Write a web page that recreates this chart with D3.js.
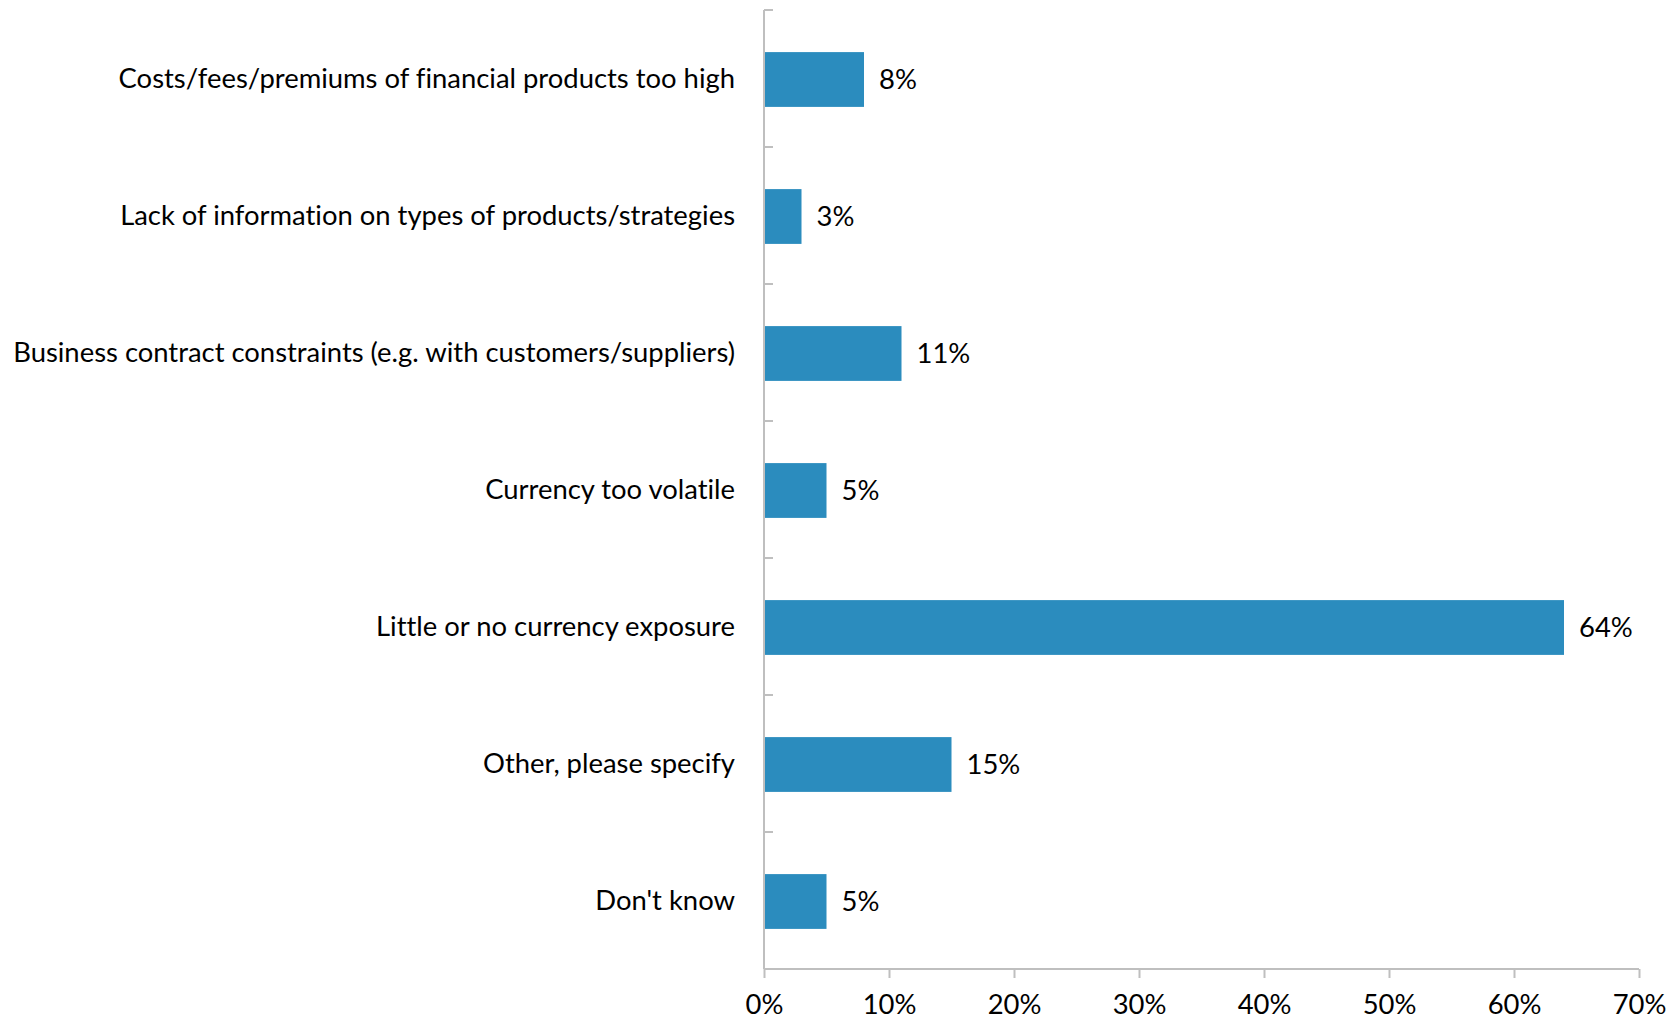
<!DOCTYPE html>
<html>
<head>
<meta charset="utf-8">
<script src="https://cdn.jsdelivr.net/npm/d3@7"></script>
<style>
  html, body { margin: 0; padding: 0; background: #fff; }
  svg { display: block; }
  text { font-family: Lato, "Open Sans", "Noto Sans", sans-serif; fill: #000; font-variant-ligatures: none; }
</style>
</head>
<body>
<svg id="chart" width="1680" height="1021"></svg>
<script>
const categories = [
  "Costs/fees/premiums of financial products too high",
  "Lack of information on types of products/strategies",
  "Business contract constraints (e.g. with customers/suppliers)",
  "Currency too volatile",
  "Little or no currency exposure",
  "Other, please specify",
  "Don't know"
];
const values = [8, 3, 11, 5, 64, 15, 5];
const xTickValues = [0, 10, 20, 30, 40, 50, 60, 70];

const svg = d3.select("#chart");
const margin = { left: 764, right: 41, top: 10, bottom: 52 };
const W = 1680, H = 1021;
const axisColor = "#bfbfbf";
const barColor = "#2b8cbe";

const x = d3.scaleLinear().domain([0, 70]).range([margin.left, W - margin.right]);
const y = d3.scaleBand().domain(categories).range([margin.top, H - margin.bottom])
  .paddingInner(0.6).paddingOuter(0.3);

// Base font size chosen so the longest category label spans the left margin
let fontSize = 27;
{
  const probe = svg.append("text").attr("font-size", 100).text(categories[2]);
  const w = probe.node().getComputedTextLength();
  probe.remove();
  fontSize = Math.min(30, 100 * 722 / w);
}

const g = svg.append("g").attr("transform", "translate(0,1)");

// Bars
g.selectAll("rect.bar").data(values).join("rect")
  .attr("class", "bar")
  .attr("x", x(0))
  .attr("y", (d, i) => y(categories[i]))
  .attr("width", d => x(d) - x(0))
  .attr("height", y.bandwidth())
  .attr("fill", barColor);

// Value labels
g.selectAll("text.val").data(values).join("text")
  .attr("class", "val")
  .attr("x", d => x(d) + 15)
  .attr("y", (d, i) => y(categories[i]) + y.bandwidth() / 2)
  .attr("dy", "0.35em")
  .attr("font-size", fontSize)
  .text(d => d + "%");

// X axis
const xAxis = d3.axisBottom(x).tickValues(xTickValues).tickFormat(d => d + "%")
  .tickSize(9).tickPadding(17);
const xg = svg.append("g").attr("transform", `translate(0,${H - margin.bottom})`).call(xAxis);
xg.select(".domain").attr("stroke", axisColor).attr("stroke-width", 2)
  .attr("d", `M${x(0)},0H${x(70)}`);
xg.selectAll(".tick line").attr("stroke", axisColor).attr("stroke-width", 2);
xg.selectAll(".tick text").attr("font-size", fontSize).attr("font-family", null).attr("fill", "#000");

// Y axis with category-boundary ticks pointing inward
const yTop = margin.top, yBot = H - margin.bottom;
const yg = svg.append("g");
yg.append("line")
  .attr("x1", x(0)).attr("x2", x(0)).attr("y1", yTop).attr("y2", yBot)
  .attr("stroke", axisColor).attr("stroke-width", 2);
const bounds = d3.range(categories.length + 1).map(i => yTop + i * (yBot - yTop) / categories.length);
yg.selectAll("line.tk").data(bounds).join("line")
  .attr("class", "tk")
  .attr("x1", x(0)).attr("x2", x(0) + 9)
  .attr("y1", d => d).attr("y2", d => d)
  .attr("stroke", axisColor).attr("stroke-width", 2);

// Category labels
yg.selectAll("text.cat").data(categories).join("text")
  .attr("class", "cat")
  .attr("x", x(0) - 29)
  .attr("y", d => y(d) + y.bandwidth() / 2)
  .attr("dy", "0.33em")
  .attr("text-anchor", "end")
  .attr("font-size", fontSize)
  .text(d => d);
</script>
</body>
</html>
